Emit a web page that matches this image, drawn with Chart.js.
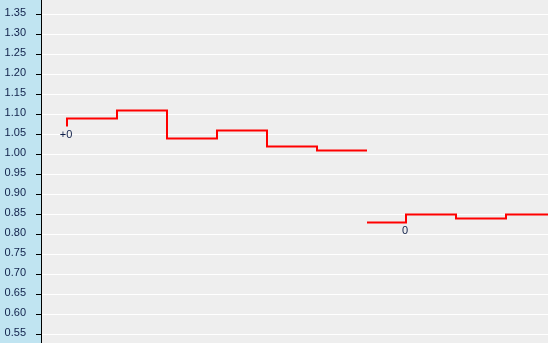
<!DOCTYPE html>
<html>
<head>
<meta charset="utf-8">
<script src="https://cdn.jsdelivr.net/npm/chart.js@4"></script>
<style>
html,body{margin:0;padding:0;background:#EEEEEE;overflow:hidden;}
canvas{display:block;}
</style>
</head>
<body>
<canvas id="c" width="548" height="343"></canvas>
<script>
// ---- data ----
const xA = [0, 1, 2, 3, 4, 5, 6];
const valuesA = [1.07, 1.09, 1.11, 1.04, 1.06, 1.02, 1.01];
const xB = [6, 6.78, 7.78, 8.78, 9.78];
const valuesB = [0.83, 0.83, 0.85, 0.84, 0.85];
const yTicks = [0.55, 0.60, 0.65, 0.70, 0.75, 0.80, 0.85, 0.90, 0.95, 1.00, 1.05, 1.10, 1.15, 1.20, 1.25, 1.30, 1.35];
const pointLabels = [
  { series: 0, index: 0, text: '+0' },
  { series: 1, index: 1, text: '0' }
];

const bgPlugin = {
  id: 'bg',
  beforeDraw(chart) {
    const { ctx, chartArea } = chart;
    ctx.save();
    ctx.fillStyle = '#EEEEEE';
    ctx.fillRect(0, 0, chart.width, chart.height);
    ctx.fillStyle = '#C0E4F1';
    ctx.fillRect(0, 0, chartArea.left, chart.height);
    ctx.restore();
  }
};

const labelPlugin = {
  id: 'pointLabels',
  afterDatasetsDraw(chart) {
    const { ctx } = chart;
    ctx.save();
    ctx.font = '11px "Liberation Sans", Arial, sans-serif';
    ctx.fillStyle = '#10204A';
    ctx.textAlign = 'center';
    ctx.textBaseline = 'middle';
    pointLabels.forEach(l => {
      const el = chart.getDatasetMeta(l.series).data[l.index];
      ctx.fillText(l.text, el.x - 1, el.y + 8);
    });
    ctx.restore();
  }
};

new Chart(document.getElementById('c'), {
  type: 'line',
  data: {
    datasets: [
      {
        data: xA.map((x, i) => ({ x, y: valuesA[i] })),
        borderColor: '#FF0000',
        borderWidth: 2,
        stepped: 'after',
        pointRadius: 0,
        fill: false
      },
      {
        data: xB.map((x, i) => ({ x, y: valuesB[i] })),
        borderColor: '#FF0000',
        borderWidth: 2,
        stepped: 'after',
        pointRadius: 0,
        fill: false
      }
    ]
  },
  options: {
    responsive: false,
    animation: false,
    layout: { padding: 0 },
    plugins: { legend: { display: false }, tooltip: { enabled: false } },
    scales: {
      x: {
        type: 'linear',
        display: false,
        min: -0.52,
        max: 9.62
      },
      y: {
        type: 'linear',
        min: 0.52875,
        max: 1.38625,
        afterBuildTicks(scale) {
          scale.ticks = yTicks.map(v => ({ value: v }));
        },
        afterFit(scale) {
          scale.width = 41;
          scale.paddingTop = 0;
          scale.paddingBottom = 0;
        },
        border: { display: true, color: '#000000', width: 1 },
        grid: {
          color: '#FFFFFF',
          lineWidth: 1,
          drawTicks: true,
          tickLength: 5,
          tickColor: '#000000'
        },
        ticks: {
          padding: 10,
          labelOffset: -2,
          color: '#10204A',
          font: { family: '"Liberation Sans", Arial, sans-serif', size: 11 },
          callback: v => v.toFixed(2)
        }
      }
    }
  },
  plugins: [bgPlugin, labelPlugin]
});
</script>
</body>
</html>
